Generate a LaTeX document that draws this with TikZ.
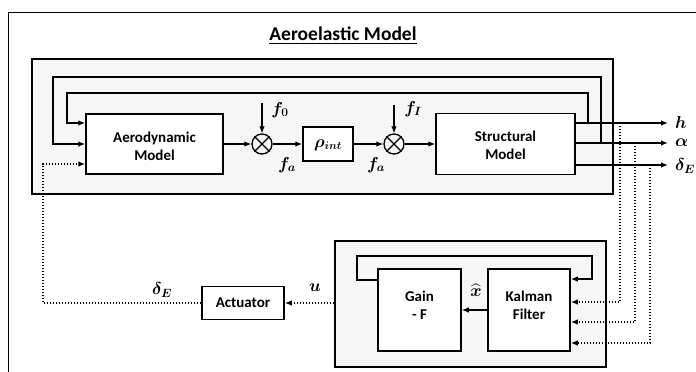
\documentclass[tikz,border=0pt]{standalone}
\usepackage{fontspec}
\usepackage{amsmath,bm}
\setsansfont{Carlito}
\usetikzlibrary{arrows.meta}
\begin{document}
\begin{tikzpicture}[x=1pt,y=-1pt,
  blk/.style={draw,line width=1.5pt,fill=white,inner sep=0pt},
  txt/.style={font=\sffamily\bfseries\fontsize{15}{18}\selectfont,align=center,inner sep=0pt},
  grp/.style={draw,line width=1.3pt,fill=gray!7,inner sep=0pt},
  sum/.style={draw,circle,line width=1.3pt,minimum size=20pt,inner sep=0pt},
  conn/.style={line width=1.3pt,-{Latex[length=7pt,width=5.5pt]}},
  wire/.style={line width=1.3pt},
  dotted line/.style={line width=1.4pt,dash pattern=on 1.4pt off 1.6pt},
  lbl/.style={font=\fontsize{18}{21}\selectfont\boldmath,inner sep=0pt}
]
\useasboundingbox (0,0) rectangle (696,372);
% outer frame (runs off the page to the right and bottom)
\begin{scope}
  \clip (0,0) rectangle (696,372);
  \draw[line width=1.2pt] (8.5,400) |- (720,12.5);
\end{scope}
\node[txt,font=\sffamily\bfseries\fontsize{19.5}{22}\selectfont] (title) at (343,36) {\underline{Aeroelastic Model}};

% group boxes
\node[grp,minimum width=581pt,minimum height=135pt] (aeroel) at (322.5,126.5) {};
\node[grp,minimum width=271pt,minimum height=126pt] (ctrl) at (470.5,304) {};

% aeroelastic blocks
\node[blk,minimum width=137pt,minimum height=60pt] (aero) at (154.5,144) {};
\node[txt] (aerotxt) at (154.5,146) {Aerodynamic\\Model};
\node[sum] (s1) at (262,144) {};
\draw[wire] (s1.north east) -- (s1.south west) (s1.north west) -- (s1.south east);
\node[blk,minimum width=50pt,minimum height=34pt] (rho) at (328,144) {};
\node[lbl,font=\fontsize{16}{19}\selectfont\boldmath] (rhotxt) at (328,145) {$\rho_{int}$};
\node[sum] (s2) at (394,144) {};
\draw[wire] (s2.north east) -- (s2.south west) (s2.north west) -- (s2.south east);
\node[blk,minimum width=139pt,minimum height=61pt] (struct) at (505.5,144) {};
\node[txt] (structtxt) at (505.5,145) {Structural\\Model};

% control blocks
\node[blk,minimum width=83pt,minimum height=82pt] (gain) at (419.5,310) {};
\node[txt] (gaintxt) at (419.5,305) {Gain\\- F};
\node[blk,minimum width=82pt,minimum height=82pt] (kalman) at (529,310) {};
\node[txt] (kalmantxt) at (529,305) {Kalman\\Filter};
\node[blk,minimum width=82pt,minimum height=33pt] (act) at (243,303) {};
\node[txt] (acttxt) at (243,303) {Actuator};

% forward path
\draw[conn] (aero) -- (s1);
\draw[conn] (s1) -- (rho);
\draw[conn] (rho) -- (s2);
\draw[conn] (s2) -- (struct);
\coordinate (f0top) at (262,103);
\coordinate (fItop) at (394,105);
\draw[conn] (f0top) -- (s1.north);
\draw[conn] (fItop) -- (s2.north);
\node[lbl] (f0) at (280,110) {$f_0$};
\node[lbl] (fI) at (413,109) {$f_I$};
\node[lbl] (fa1) at (287,165) {$f_a$};
\node[lbl] (fa2) at (376,165) {$f_a$};

% outputs
\coordinate (hend) at (668,123);
\coordinate (aend) at (668,143);
\coordinate (dend) at (668,165);
\draw[conn] (struct.east |- hend) -- (hend);
\draw[conn] (struct.east |- aend) -- (aend);
\draw[conn] (struct.east |- dend) -- (dend);
\node[lbl,anchor=west] (hl) at (675,122) {$h$};
\node[lbl,anchor=west] (al) at (675,143) {$\alpha$};
\node[lbl,anchor=west] (dl) at (675,166) {$\delta_E$};

% structural feedback loops
\coordinate (tapa) at (601,143);
\coordinate (taph) at (588,123);
\draw[conn] (tapa) |- (53,77) |- (aero.west);
\draw[conn] (taph) |- (67,93) |- (aero.west |- hend);

% measurements to the filter
\coordinate (m1) at (620,123);
\coordinate (m2) at (635,143);
\coordinate (m3) at (650,165);
\draw[dotted line,-{Latex[length=7pt,width=5.5pt]}] (m1) |- (kalman.east |- 0,302);
\draw[dotted line,-{Latex[length=7pt,width=5.5pt]}] (m2) |- (kalman.east |- 0,322);
\draw[dotted line,-{Latex[length=7pt,width=5.5pt]}] (m3) |- (kalman.east |- 0,343);

% filter loop and estimate
\draw[conn] (gain.west |- 0,280) -- (357,280) |- (592,256) |- (kalman.east |- 0,279);
\draw[conn] (kalman) -- (gain);
\node[lbl,font=\fontsize{16}{19}\selectfont\boldmath] (xhat) at (476,290) {$\widehat{x}$};

% control signal to the actuator and back to the aerodynamics
\draw[dotted line,-{Latex[length=7pt,width=5.5pt]}] (ctrl.west |- act.east) -- (act.east);
\node[lbl] (ul) at (315,288) {$u$};
\draw[dotted line,-{Latex[length=7pt,width=5.5pt]}] (act.west) -- (43,303) |- (aero.west |- 0,164);
\node[lbl] (dEl) at (162,290) {$\delta_E$};
\end{tikzpicture}
\end{document}
